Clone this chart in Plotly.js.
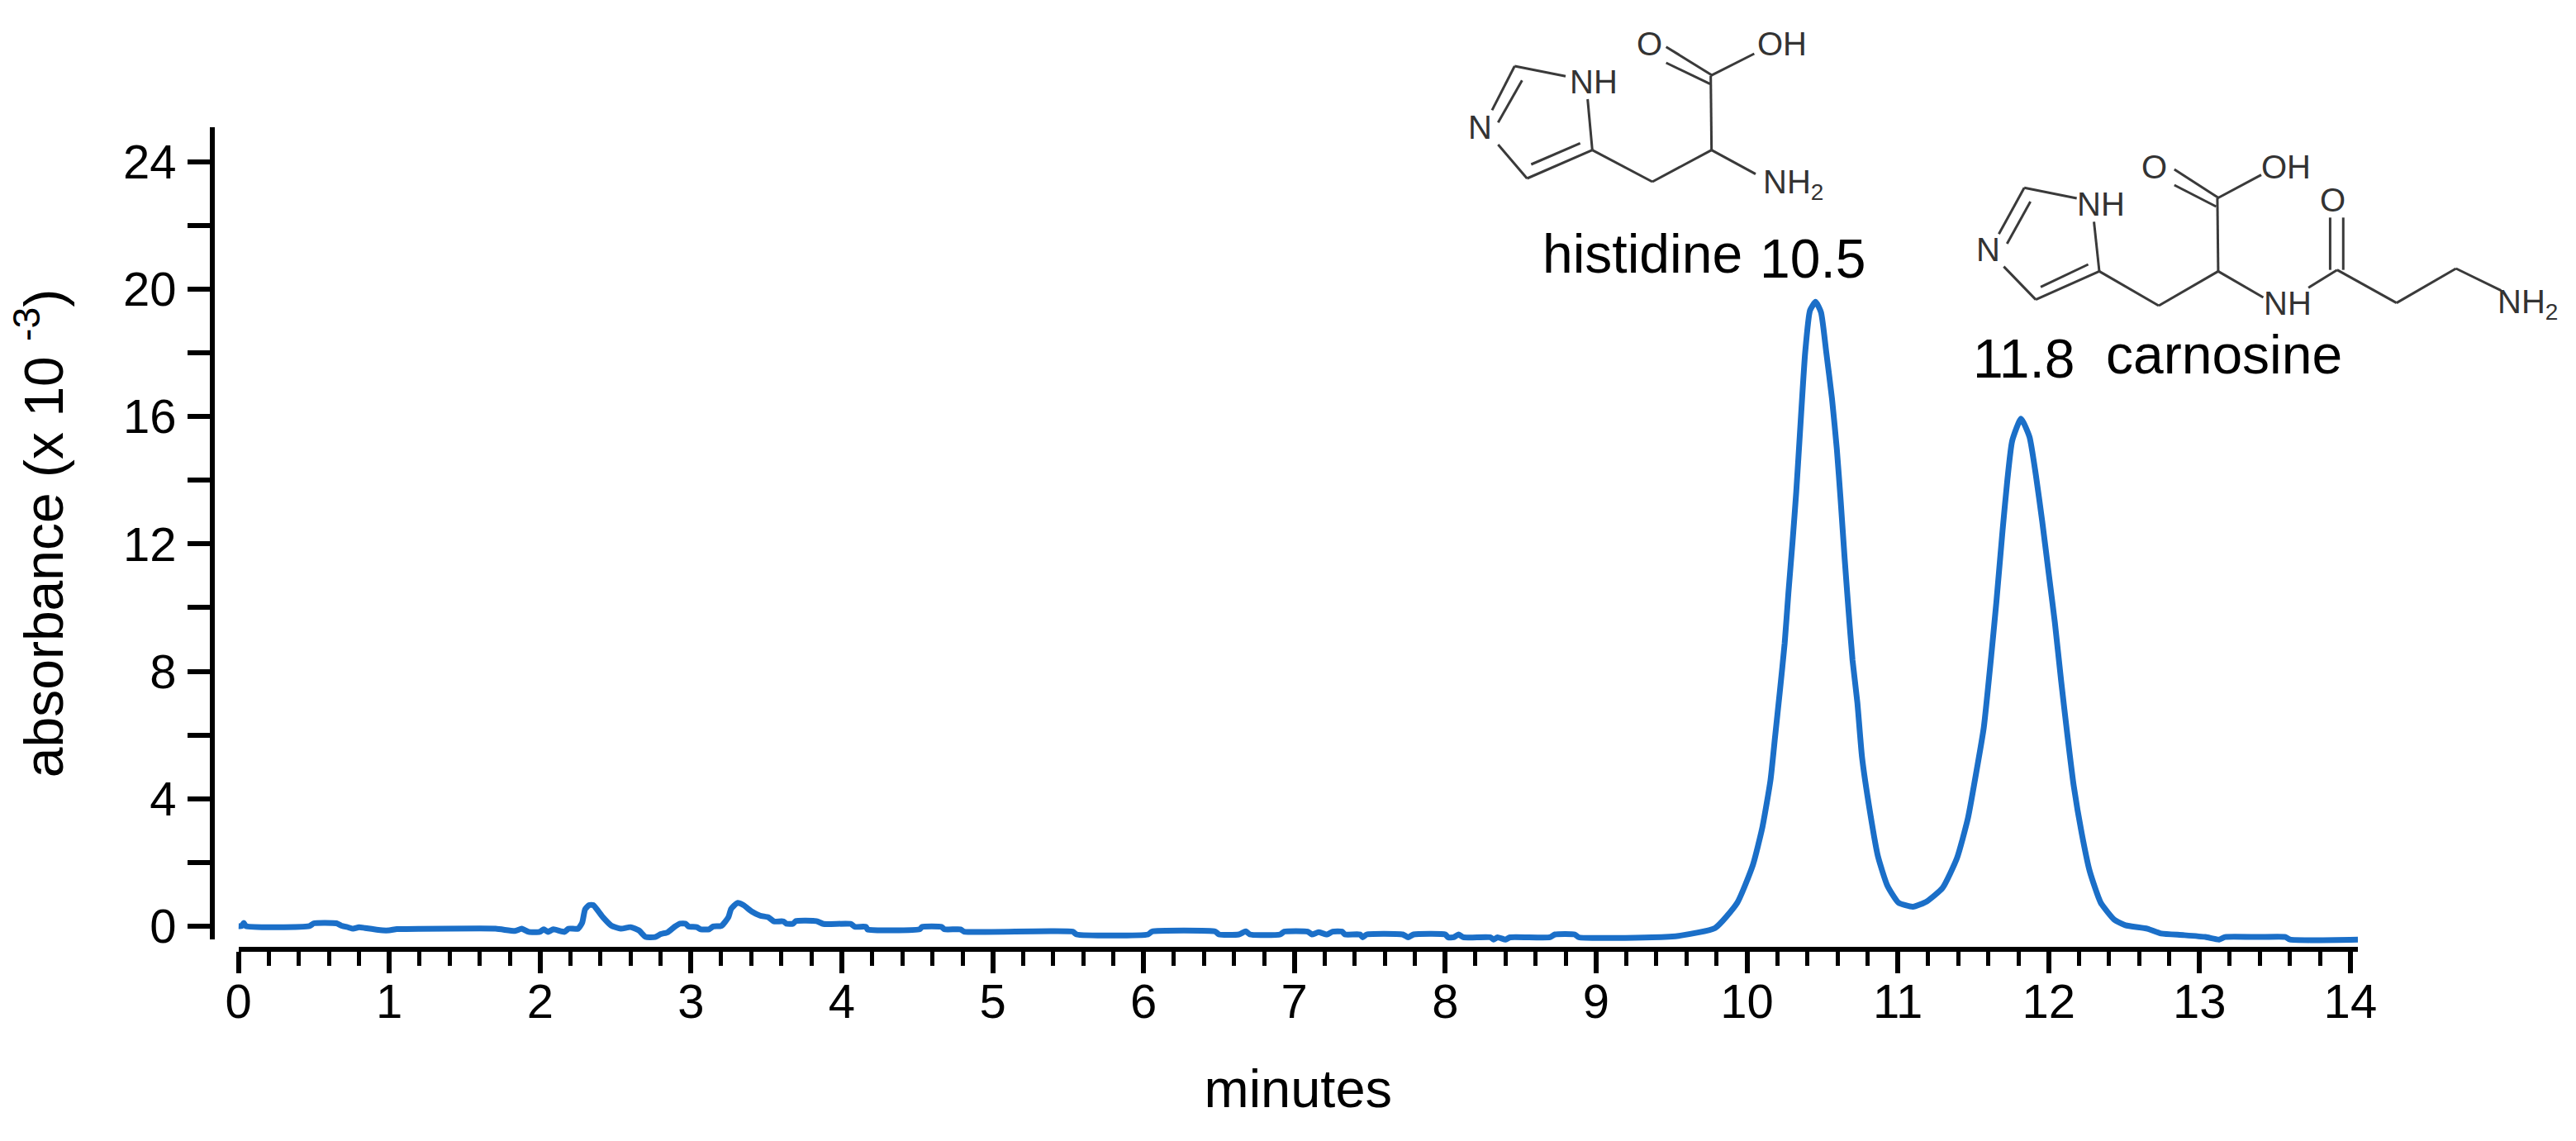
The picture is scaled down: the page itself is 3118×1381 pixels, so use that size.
<!DOCTYPE html>
<html>
<head>
<meta charset="utf-8">
<script src="https://cdn.plot.ly/plotly-3.0.1.min.js"></script>
<style>html,body{margin:0;padding:0;background:#fff}#chart{width:3118px;height:1381px}</style>
</head>
<body>
<div id="chart"></div>
<script>
// Chromatogram
const minutes = [0.0,0.02,0.035,0.05,0.47,0.5,0.65,0.68,0.73,0.76,0.8,0.84,0.955,1.0,1.05,1.11,1.705,1.833,1.878,1.924,1.997,2.024,2.052,2.088,2.161,2.188,2.252,2.279,2.298,2.325,2.352,2.416,2.471,2.535,2.599,2.654,2.70,2.763,2.80,2.846,2.891,2.928,2.964,2.983,3.038,3.065,3.12,3.147,3.202,3.248,3.266,3.308,3.348,3.403,3.458,3.513,3.55,3.613,3.631,3.677,3.695,3.832,3.878,4.06,4.086,4.16,4.17,4.515,4.533,4.66,4.68,4.786,4.81,5.53,5.556,6.03,6.056,6.476,6.50,6.632,6.678,6.705,6.906,6.933,7.088,7.116,7.16,7.216,7.253,7.316,7.335,7.435,7.453,7.48,7.718,7.754,7.79,8.0,8.019,8.056,8.088,8.12,8.30,8.32,8.347,8.40,8.43,8.694,8.727,8.858,8.886,9.37,9.559,9.789,9.936,10.04,10.103,10.156,10.187,10.218,10.25,10.275,10.302,10.327,10.355,10.386,10.418,10.455,10.491,10.526,10.564,10.596,10.621,10.648,10.673,10.70,10.732,10.763,10.816,10.868,10.931,11.004,11.10,11.193,11.297,11.392,11.465,11.528,11.57,11.622,11.654,11.695,11.727,11.758,11.817,11.873,11.915,11.957,11.999,12.041,12.083,12.125,12.167,12.219,12.272,12.345,12.436,12.509,12.655,12.746,12.892,13.04,13.13,13.17,13.39,13.57,13.6,14.05];
const absorbance = [0.0,0.0,0.1,0.0,0.0,0.09,0.09,0.02,-0.04,-0.08,-0.03,-0.06,-0.13,-0.13,-0.09,-0.09,-0.08,-0.15,-0.08,-0.18,-0.18,-0.10,-0.18,-0.10,-0.18,-0.08,-0.08,0.11,0.53,0.66,0.66,0.28,0.02,-0.08,-0.03,-0.13,-0.34,-0.34,-0.25,-0.19,-0.02,0.08,0.08,-0.01,-0.03,-0.10,-0.10,-0.01,0.01,0.28,0.54,0.73,0.66,0.46,0.33,0.28,0.15,0.15,0.08,0.08,0.16,0.16,0.07,0.07,-0.02,-0.02,-0.10,-0.10,-0.02,-0.02,-0.10,-0.10,-0.17,-0.17,-0.26,-0.26,-0.17,-0.17,-0.26,-0.26,-0.16,-0.26,-0.26,-0.17,-0.17,-0.26,-0.19,-0.26,-0.17,-0.17,-0.26,-0.26,-0.35,-0.26,-0.26,-0.35,-0.26,-0.26,-0.35,-0.35,-0.26,-0.35,-0.35,-0.42,-0.35,-0.42,-0.35,-0.35,-0.26,-0.26,-0.35,-0.35,-0.295,-0.057,0.737,1.93,3.12,4.58,5.97,7.36,8.88,10.47,12.05,13.64,15.76,18.01,19.33,19.6,19.27,18.01,16.55,14.97,13.38,11.52,9.94,8.35,7.02,5.3,3.58,2.2,1.27,0.74,0.61,0.78,1.2,2.13,3.39,5.04,6.23,8.61,10.2,12.45,14.04,15.23,15.93,15.36,14.17,12.72,11.13,9.54,7.69,5.97,4.38,2.92,1.73,0.74,0.2,0.03,-0.08,-0.23,-0.28,-0.34,-0.42,-0.34,-0.34,-0.34,-0.42,-0.42];
const xTickVals = [0,1,2,3,4,5,6,7,8,9,10,11,12,13,14];
const yTickVals = [0,4,8,12,16,20,24];
const xTitle = 'minutes';
const yTitle = 'absorbance (x 10 <sup>-3</sup>)';
const peakLabels = ['histidine','10.5','11.8','carnosine'];

// Page geometry of the axes box (pixels in the 3118x1381 page)
const L = 257, R = 2854, T = 154, B = 1149;
const px = v => (v - L) / (R - L);
const py = v => (B - v) / (B - T);

// Chemical structures (decoration): bonds as x1,y1,x2,y2 in reference crops
const hisBonds = [[340,240,525,277],[605,360,622,545],[622,545,385,648],[578,520,400,597],[385,648,280,525],[340,240,258,400],[367,292,280,445],[622,545,840,660],[840,660,1055,545],[1055,545,1052,275],[890,170,1055,272],[890,228,1050,305],[1052,275,1210,195],[1055,545,1215,632]];
const hisAtoms = [['N',215,462],['NH',628,297],['O',828,160],['OH',1310,160],['NH<sub>2</sub>',1350,670]];
const carBonds = [[222,232,350,270],[392,355,405,535],[405,535,250,638],[378,510,262,592],[250,638,172,518],[222,232,160,400],[237,282,180,435],[405,535,550,660],[550,660,695,535],[695,535,693,270],[695,268,588,165],[690,300,588,222],[693,270,800,185],[695,535,805,630],[915,595,985,530],[968,530,968,340],[1000,530,1000,340],[985,530,1130,650],[1130,650,1275,525],[1275,525,1385,605]];
const carAtoms = [['N',135,455],['NH',410,290],['O',540,155],['OH',860,155],['O',975,275],['NH',865,650],['NH<sub>2</sub>',1450,655]];
const hisX = v => 1720 + v / 3, hisY = v => v / 3;
const carX = v => 2340 + v / 2.015, carY = v => 150 + v / 3;

const bondShape = (b, fx, fy) => ({type:'line', xref:'paper', yref:'paper', layer:'above',
  x0:px(fx(b[0])), y0:py(fy(b[1])), x1:px(fx(b[2])), y1:py(fy(b[3])), line:{color:'#3a3a3a', width:3}});
const atomNote = (a, fx, fy) => ({text:a[0], xref:'paper', yref:'paper', x:px(fx(a[1])), y:py(fy(a[2])),
  showarrow:false, xanchor:'center', yanchor:'middle', font:{family:'Liberation Sans', size:40, color:'#333'}});
const textNote = (text, cx, baseline) => ({text, xref:'paper', yref:'paper', x:px(cx), y:py(baseline),
  showarrow:false, xanchor:'center', yanchor:'bottom', yshift:-16, font:{family:'Liberation Sans', size:66, color:'#000'}});

const layout = {
  width:3118, height:1381, paper_bgcolor:'rgba(0,0,0,0)', plot_bgcolor:'rgba(0,0,0,0)', showlegend:false,
  margin:{l:L, r:3118-R, t:T, b:1381-B, pad:0},
  font:{family:'Liberation Sans', color:'#000'},
  xaxis:{domain:[px(288.6),1], range:[0,14.05], anchor:'free', position:0, showgrid:false, zeroline:false,
    showline:true, linecolor:'#000', linewidth:6, ticks:'outside', ticklen:26, tickwidth:6, tickcolor:'#000',
    tickmode:'array', tickvals:xTickVals, ticktext:xTickVals.map(String), tickangle:0,
    tickfont:{family:'Liberation Sans', size:58, color:'#000'}, ticklabelstandoff:-16,
    minor:{dtick:0.2, tick0:0, ticks:'outside', ticklen:17, tickwidth:5, tickcolor:'#000', showgrid:false},
    title:{text:xTitle, font:{family:'Liberation Sans', size:65, color:'#000'}, standoff:51}},
  yaxis:{domain:[py(1137),1], range:[-0.415,25.08], anchor:'free', position:0, showgrid:false, zeroline:false,
    showline:true, linecolor:'#000', linewidth:6, ticks:'outside', ticklen:27, tickwidth:6, tickcolor:'#000',
    tickmode:'array', tickvals:yTickVals, ticktext:yTickVals.map(String),
    tickfont:{family:'Liberation Sans', size:58, color:'#000'}, ticklabelstandoff:2,
    minor:{dtick:2, tick0:0, ticks:'outside', ticklen:27, tickwidth:6, tickcolor:'#000', showgrid:false},
    title:{text:yTitle, font:{family:'Liberation Sans', size:66, color:'#000'}, standoff:50}},
  // Same scale as yaxis, reaching a little lower so the curve is not clipped at the axis end
  yaxis2:{domain:[py(1147),1], range:[-0.675,25.08], anchor:'x', visible:false, fixedrange:true},
  shapes:[...hisBonds.map(b=>bondShape(b,hisX,hisY)), ...carBonds.map(b=>bondShape(b,carX,carY))],
  annotations:[
    ...hisAtoms.map(a=>atomNote(a,hisX,hisY)), ...carAtoms.map(a=>atomNote(a,carX,carY)),
    textNote(peakLabels[0],1988,330), textNote(peakLabels[1],2194,336),
    textNote(peakLabels[2],2450,457), textNote(peakLabels[3],2692,452)
  ]
};

Plotly.newPlot('chart',[
  {type:'scatter', mode:'lines', x:[], y:[], yaxis:'y', hoverinfo:'skip'},
  {type:'scatter', mode:'lines', x:minutes, y:absorbance, yaxis:'y2', cliponaxis:false,
   line:{color:'#1b6fc8', width:7, shape:'spline', smoothing:0.5}, hoverinfo:'skip'}
],layout,{staticPlot:true,displayModeBar:false});
</script>
</body>
</html>
